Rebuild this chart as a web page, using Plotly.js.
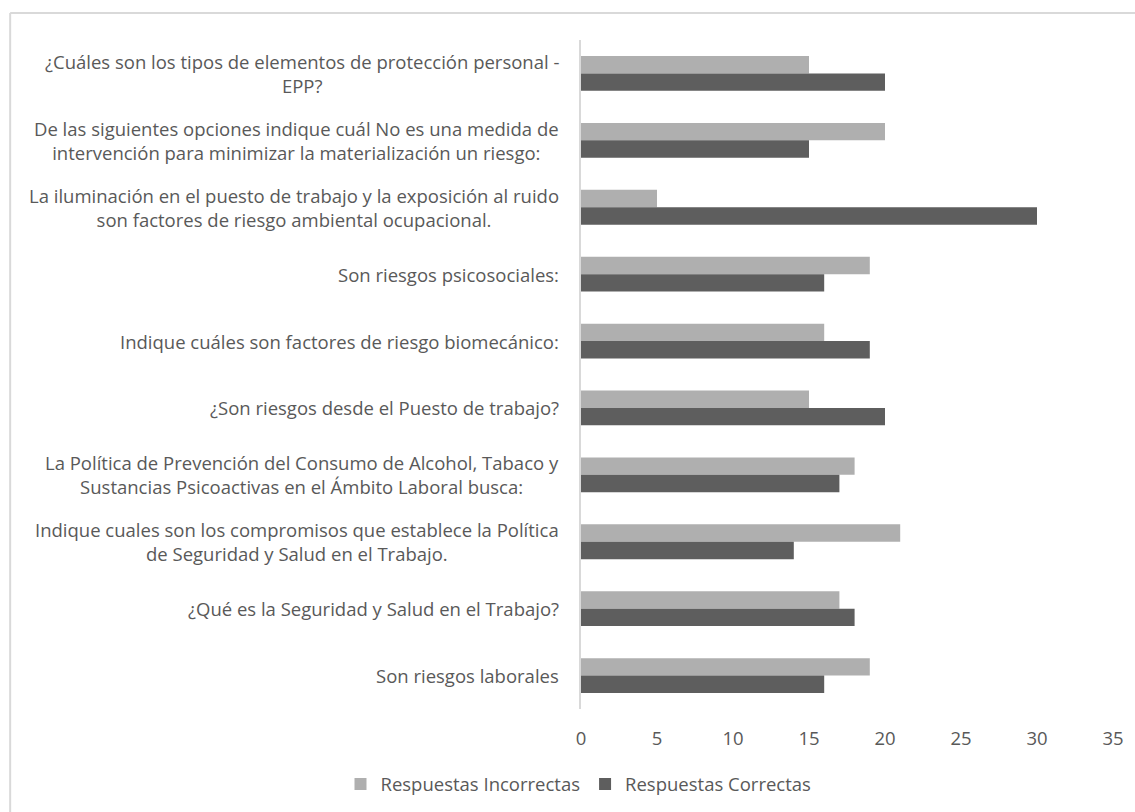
<!DOCTYPE html>
<html>
<head>
<meta charset="utf-8">
<script src="https://cdn.plot.ly/plotly-3.0.1.min.js"></script>
<style>
  html, body { margin: 0; padding: 0; background: #ffffff; overflow: hidden; }
  #chart { width: 1135px; height: 812px; }
</style>
</head>
<body>
<div id="chart"></div>
<script>
// Survey questions, listed from top to bottom
const preguntas = [
  "¿Cuáles son los tipos de elementos de protección personal -<br>EPP?",
  "De las siguientes opciones indique cuál No es una medida de<br>intervención para minimizar la materialización un riesgo:",
  "La iluminación en el puesto de trabajo y la exposición al ruido<br>son factores de riesgo ambiental ocupacional.",
  "Son riesgos psicosociales:",
  "Indique cuáles son factores de riesgo biomecánico:",
  "¿Son riesgos desde el Puesto de trabajo?",
  "La Política de Prevención del Consumo de Alcohol, Tabaco y<br>Sustancias Psicoactivas en el Ámbito Laboral busca:",
  "Indique cuales son los compromisos que establece la Política<br>de Seguridad y Salud en el Trabajo.",
  "¿Qué es la Seguridad y Salud en el Trabajo?",
  "Son riesgos laborales"
];

// Number of answers per question
const incorrectas = [15, 20, 5, 19, 16, 15, 18, 21, 17, 19];
const correctas   = [20, 15, 30, 16, 19, 20, 17, 14, 18, 16];

const serieNombres = ["Respuestas Incorrectas", "Respuestas Correctas"];
const xTicks = [0, 5, 10, 15, 20, 25, 30, 35];

const textColor = "#595959";
const fontFamily = "'Open Sans', sans-serif";
const borderColor = "#d9d9d9";

const traces = [
  {
    type: "bar", orientation: "h",
    name: serieNombres[0],
    y: preguntas, x: incorrectas,
    marker: { color: "#afafaf" },
    hoverinfo: "skip"
  },
  {
    type: "bar", orientation: "h",
    name: serieNombres[1],
    y: preguntas, x: correctas,
    marker: { color: "#5e5e5e" },
    hoverinfo: "skip"
  }
];

// Question labels: centred multi-line text to the left of the axis
const labels = preguntas.map(q => ({
  text: q,
  xref: "paper", x: 0, xshift: -20, xanchor: "right",
  yref: "y", y: q, yanchor: "middle",
  align: "center",
  showarrow: false,
  font: { family: fontFamily, size: 18.5, color: textColor }
}));

const layout = {
  width: 1135, height: 812,
  margin: { l: 581, r: 22, t: 40, b: 103 },
  paper_bgcolor: "#ffffff",
  plot_bgcolor: "#ffffff",
  barmode: "group",
  bargap: 0.48,
  bargroupgap: 0,
  showlegend: true,
  legend: {
    orientation: "h",
    xref: "container", x: 0.300, xanchor: "left",
    yref: "container", y: 0.034, yanchor: "middle",
    font: { family: fontFamily, size: 18.5, color: textColor },
    bgcolor: "rgba(0,0,0,0)"
  },
  xaxis: {
    range: [0, 35],
    tickvals: xTicks,
    ticktext: xTicks.map(String),
    showgrid: false,
    zeroline: false,
    showline: false,
    ticks: "",
    ticklabelstandoff: 16,
    automargin: false,
    tickfont: { family: fontFamily, size: 18.5, color: textColor },
    fixedrange: true
  },
  yaxis: {
    type: "category",
    autorange: "reversed",
    showticklabels: false,
    showgrid: false,
    zeroline: false,
    showline: true,
    linecolor: borderColor,
    linewidth: 2,
    ticks: "",
    automargin: false,
    fixedrange: true
  },
  annotations: labels,
  shapes: [
    // chart area frame (top and left edges)
    { type: "line", xref: "paper", yref: "paper",
      x0: -1.073, x1: 1.2, y0: 1.0405, y1: 1.0405,
      line: { color: borderColor, width: 2 } },
    { type: "line", xref: "paper", yref: "paper",
      x0: -1.073, x1: -1.073, y0: 1.0405, y1: -0.2,
      line: { color: borderColor, width: 2 } }
  ]
};

Plotly.newPlot("chart", traces, layout, { displayModeBar: false, staticPlot: true });
</script>
</body>
</html>
